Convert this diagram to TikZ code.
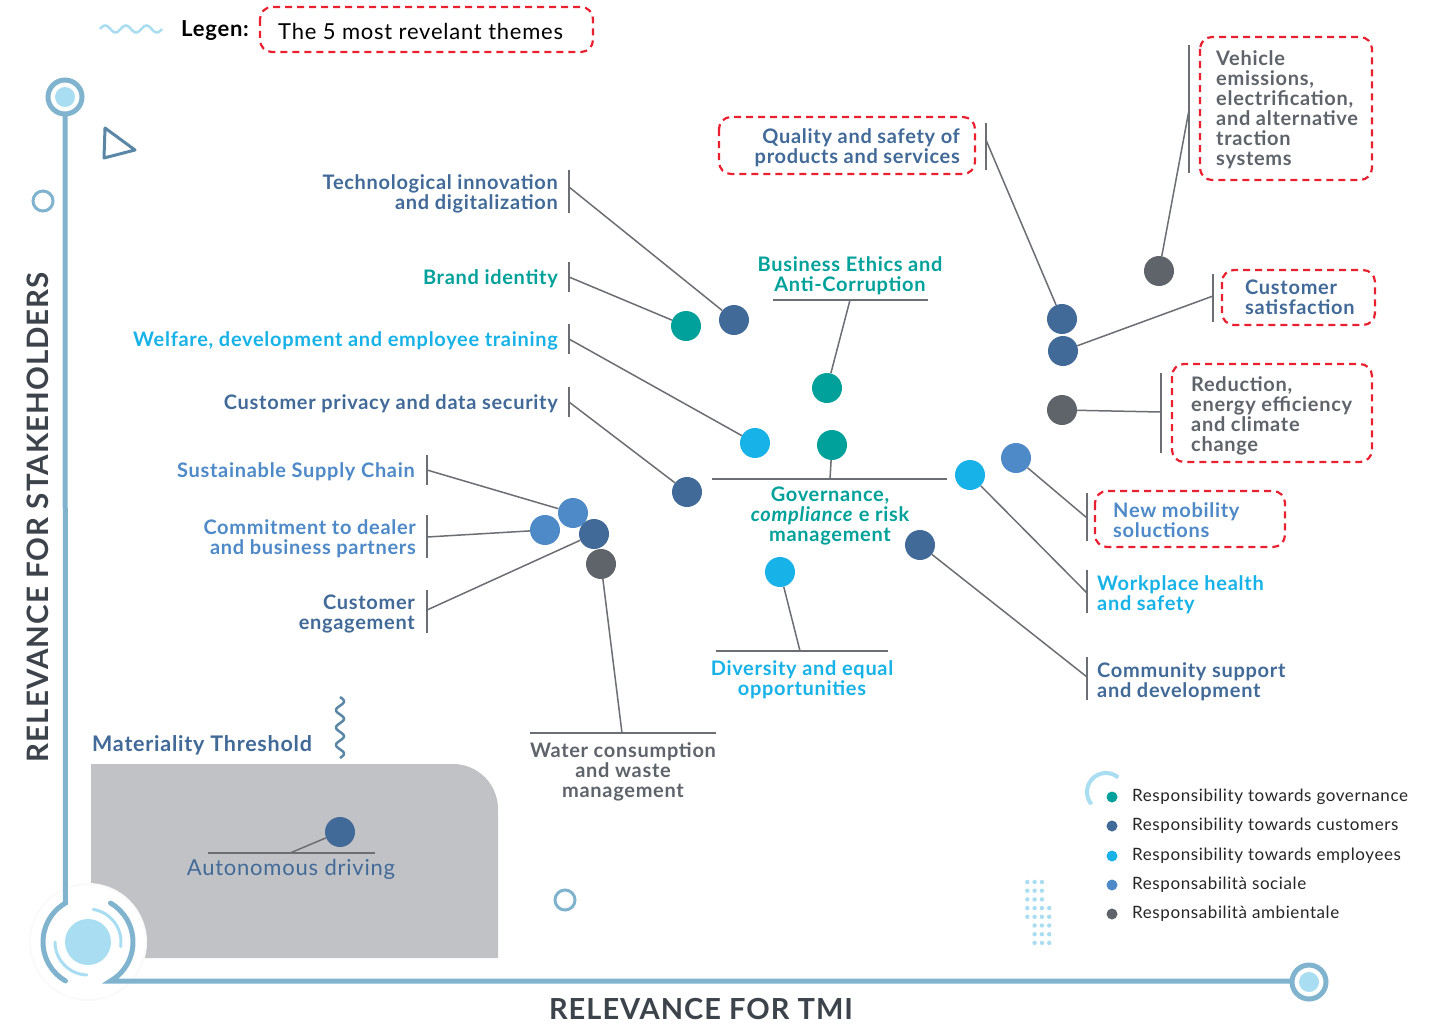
\documentclass[tikz,border=0pt]{standalone}
\usepackage{fontspec}
\setmainfont{Lato}[LetterSpace=3.5]
\definecolor{gov}{HTML}{00A19A}
\definecolor{cus}{HTML}{416A98}
\definecolor{emp}{HTML}{17B2E7}
\definecolor{soc}{HTML}{4E8AC8}
\definecolor{env}{HTML}{5F646B}
\definecolor{axisc}{HTML}{80B3CE}
\definecolor{lblue}{HTML}{A9DDF2}
\definecolor{redd}{HTML}{E8202F}
\definecolor{barc}{HTML}{6B6E72}
\definecolor{boxg}{HTML}{C1C2C6}
\definecolor{darkt}{HTML}{3D434B}
\definecolor{tric}{HTML}{5B87A6}
\begin{document}
\begin{tikzpicture}[x=1pt,y=-1pt,
  dotc/.style={circle, minimum size=30pt, inner sep=0pt, draw=none, fill=#1},
  ldot/.style={circle, minimum size=11pt, inner sep=0pt, draw=none, fill=#1},
  lab/.style={font=\fontsize{20}{20}\selectfont\bfseries, inner sep=0pt, text=#1},
  leg/.style={font=\fontsize{17}{18}\selectfont, inner sep=0pt, text=black!85, anchor=west},
  conn/.style={draw=barc, line width=1.5pt},
  tickl/.style={draw=barc, line width=2pt},
  hot/.style={draw=redd, line width=2.2pt, dash pattern=on 7pt off 5pt, rounded corners=12pt},
  axisl/.style={draw=axisc, line width=5pt, line cap=round},
  deco/.style={draw=axisc, line width=3pt}
]
\useasboundingbox (0,0) rectangle (1439,1025);
\fill[white] (0,0) rectangle (1439,1025);

% ---- materiality box
\fill[boxg] (91,958) -- (91,764) -- (453,764) arc[start angle=90,end angle=0,radius=45pt] -- (498,958) -- cycle;
\fill[gray!4] (88,942) circle[radius=59pt];
\fill[white] (88,942) circle[radius=57pt];

% ---- axes
\draw[axisl] (65,116) -- (65.5,903) arc[start angle=120,end angle=240,radius=45pt];
\draw[axisl] (1290,981) -- (110.5,981) arc[start angle=-60,end angle=60,radius=45pt];
\draw[lblue, line width=3pt, line cap=round] (88,942) ++(-8:33pt) arc[start angle=-8,end angle=81,radius=33pt];
\draw[lblue, line width=3pt, line cap=round] (88,942) ++(180:33pt) arc[start angle=180,end angle=268,radius=33pt];
\fill[lblue] (88,942) circle[radius=23pt];
\draw[axisc, line width=5pt] (65,97) circle[radius=17pt];
\fill[lblue] (65,97) circle[radius=10pt];
\draw[axisc, line width=5pt] (1309,982) circle[radius=17pt];
\fill[lblue] (1309,982) circle[radius=10pt];

\node[rotate=90, font=\fontsize{29.5}{30}\selectfont\bfseries, text=darkt, inner sep=0pt] (ya) at (38,517) {RELEVANCE FOR STAKEHOLDERS};
\node[font=\fontsize{29}{30}\selectfont\bfseries, text=darkt, inner sep=0pt] (xa) at (701,1009) {RELEVANCE FOR TMI};

% ---- decorations
\draw[deco] (43,201) circle[radius=10pt];
\draw[deco] (565,900) circle[radius=10pt];
\draw[tric, line width=3pt, line join=round] (105,128) -- (135,150) -- (104,158) -- cycle;
\draw[lblue, line width=2.5pt] plot[domain=0:62, samples=80] ({100+\x},{29-3.5*sin(\x/62*3*360)});
\draw[tric, line width=2.5pt] plot[domain=0:61, samples=80] ({340+4*sin(\x/61*3.5*360)},{697+\x});
\foreach \r/\a/\b in {0/1/3,1/1/3,2/1/3,3/1/4,4/1/4,5/2/4,6/2/4,7/2/4}{
  \foreach \c in {\a,...,\b}{
    \fill[lblue] ({1020+7.3*\c},{882+8.7*\r}) circle[radius=2.2pt];
  }
}
\draw[lblue, line width=4pt] (1106,792) ++(50:19pt) arc[start angle=50,end angle=220,radius=19pt];

% ---- top legend
\node[font=\fontsize{22}{24}\selectfont\bfseries, anchor=west, inner sep=0pt] (lg) at (181,31) {Legen:};
\draw[hot] (260,7) rectangle (593,52);
\node[font=\fontsize{22}{24}\selectfont, anchor=west, inner sep=0pt] (lgt) at (278,31) {The 5 most revelant themes};

% ---- materiality
\node[font=\fontsize{21.5}{24}\selectfont\bfseries, text=cus, anchor=west, inner sep=0pt] (mt) at (92,745) {Materiality Threshold};
\draw[tickl] (208,853) -- (375,853);
\coordinate (c19) at (290,853);
\node[dotc=cus] (d19) at (340,832) {};
\draw[conn] (c19) -- (d19);
\node[font=\fontsize{22}{24}\selectfont, text=cus, inner sep=0pt] (t19) at (291,869) {Autonomous driving};

% ---- red boxes
\draw[hot] (719,117) rectangle (975,174);
\draw[hot] (1200,37) rectangle (1372,180);
\draw[hot] (1222,270) rectangle (1375,325);
\draw[hot] (1172,364) rectangle (1372,462);
\draw[hot] (1095,491) rectangle (1285,547);

% ---- ticks and lines
\draw[tickl] (569,170) -- (569,213);
\draw[tickl] (569,262) -- (569,292);
\draw[tickl] (569,324) -- (569,354);
\draw[tickl] (569,387) -- (569,417);
\draw[tickl] (427,455) -- (427,485);
\draw[tickl] (427,515) -- (427,558);
\draw[tickl] (427,590) -- (427,633);
\draw[tickl] (530,733) -- (716,733);
\draw[tickl] (716,651) -- (888,651);
\draw[tickl] (712,479) -- (947,479);
\draw[tickl] (773,300) -- (928,300);
\draw[tickl] (986,123) -- (986,170);
\draw[tickl] (1189,45) -- (1189,173);
\draw[tickl] (1213,274) -- (1213,322);
\draw[tickl] (1161,373) -- (1161,453);
\draw[tickl] (1087,493) -- (1087,541);
\draw[tickl] (1087,570) -- (1087,613);
\draw[tickl] (1087,657) -- (1087,700);

\coordinate (c1) at (569,187);
\coordinate (c2) at (569,277);
\coordinate (c3) at (569,339);
\coordinate (c4) at (569,402);
\coordinate (c5) at (427,470);
\coordinate (c6) at (427,537);
\coordinate (c7) at (427,610);
\coordinate (c8) at (622,733);
\coordinate (c9) at (800,651);
\coordinate (c10) at (830,479);
\coordinate (c11) at (850,300);
\coordinate (c12) at (986,140);
\coordinate (c13) at (1189,110);
\coordinate (c14) at (1213,296);
\coordinate (c15) at (1161,412);
\coordinate (c16) at (1087,518);
\coordinate (c17) at (1087,593);
\coordinate (c18) at (1087,677);

% ---- dots
\node[dotc=cus] (d1) at (734,320) {};
\node[dotc=gov] (d2) at (686,326) {};
\node[dotc=emp] (d3) at (755,443) {};
\node[dotc=cus] (d4) at (687,492) {};
\node[dotc=soc] (d5) at (573,513) {};
\node[dotc=soc] (d6) at (545,530) {};
\node[dotc=env] (d8) at (601,564) {};
\node[dotc=cus] (d7) at (594,534) {};
\node[dotc=emp] (d9) at (780,572) {};
\node[dotc=gov] (d10) at (832,445) {};
\node[dotc=gov] (d11) at (827,388) {};
\node[dotc=cus] (d12) at (1062,319) {};
\node[dotc=env] (d13) at (1159,271) {};
\node[dotc=cus] (d14) at (1063,351) {};
\node[dotc=env] (d15) at (1062,410) {};
\node[dotc=soc] (d16) at (1016,458) {};
\node[dotc=emp] (d17) at (970,475) {};
\node[dotc=cus] (d18) at (920,545) {};

\foreach \i in {1,...,18}{ \draw[conn] (c\i) -- (d\i); }

% ---- labels
\node[lab=cus, align=right, anchor=north east] (t1) at (558,174) {Technological innovation\\and digitalization};
\node[lab=gov, align=right, anchor=north east] (t2) at (558,269) {Brand identity};
\node[lab=emp, align=right, anchor=north east] (t3) at (558,331) {Welfare, development and employee training};
\node[lab=cus, align=right, anchor=north east] (t4) at (558,394) {Customer privacy and data security};
\node[lab=soc, align=right, anchor=north east] (t5) at (415,462) {Sustainable Supply Chain};
\node[lab=soc, align=right, anchor=north east] (t6) at (416,519) {Commitment to dealer\\and business partners};
\node[lab=cus, align=right, anchor=north east] (t7) at (415,595) {Customer\\engagement};
\node[lab=env, align=center, anchor=north] (t8) at (623,742) {Water consumption\\and waste\\management};
\node[lab=emp, align=center, anchor=north] (t9) at (802,660) {Diversity and equal\\opportunities};
\node[lab=gov, align=center, anchor=north] (t10) at (830,487) {Governance,\\\textit{compliance} e risk\\management};
\node[lab=gov, align=center, anchor=north] (t11) at (850,256) {Business Ethics and\\Anti-Corruption};
\node[lab=cus, align=right, anchor=north east] (t12) at (960,128) {Quality and safety of\\products and services};
\node[lab=env, align=left, anchor=north west] (t13) at (1216,50) {Vehicle\\emissions,\\electrification,\\and alternative\\traction\\systems};
\node[lab=cus, align=left, anchor=north west] (t14) at (1245,280) {Customer\\satisfaction};
\node[lab=env, align=left, anchor=north west] (t15) at (1191,376) {Reduction,\\energy efficiency\\and climate\\change};
\node[lab=soc, align=left, anchor=north west] (t16) at (1113,502) {New mobility\\soluctions};
\node[lab=emp, align=left, anchor=north west] (t17) at (1097,575) {Workplace health\\and safety};
\node[lab=cus, align=left, anchor=north west] (t18) at (1097,662) {Community support\\and development};

% ---- bottom legend
\node[ldot=gov] (l1) at (1112,797) {};
\node[ldot=cus] (l2) at (1112,826) {};
\node[ldot=emp] (l3) at (1112,856) {};
\node[ldot=soc] (l4) at (1112,885) {};
\node[ldot=env] (l5) at (1112,914) {};
\node[leg] (lt1) at (1132,797) {Responsibility towards governance};
\node[leg] (lt2) at (1132,826) {Responsibility towards customers};
\node[leg] (lt3) at (1132,856) {Responsibility towards employees};
\node[leg] (lt4) at (1132,885) {Responsabilità sociale};
\node[leg] (lt5) at (1132,914) {Responsabilità ambientale};
\end{tikzpicture}
\end{document}
